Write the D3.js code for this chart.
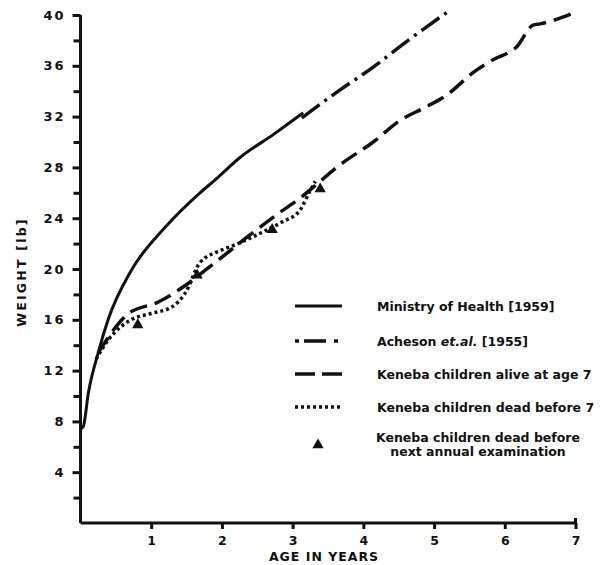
<!DOCTYPE html>
<html>
<head>
<meta charset="utf-8">
<script src="https://cdn.jsdelivr.net/npm/d3@7"></script>
<style>
  body { margin: 0; background: #fff; }
  svg text { font-family: "DejaVu Sans", sans-serif; font-weight: bold; fill: #111; }
</style>
</head>
<body>
<div id="chart"></div>
<script>
// Ministry of Health (1959)
const ministryAge = [0, 0.04, 0.11, 0.25, 0.39, 0.72, 1.2, 1.69, 1.9, 2.26, 2.73, 3.15];
const ministryWt  = [7.4, 7.6, 10.2, 13.4, 16.0, 19.9, 23.3, 26.0, 27.0, 28.8, 30.6, 32.3];

// Acheson et al. (1955)
const achesonAge = [3.13, 3.67, 4.14, 4.61, 5.23];
const achesonWt  = [31.9, 34.1, 35.9, 37.9, 40.4];

// Keneba children alive at age 7
const aliveAge = [0.25, 0.68, 1.1, 1.48, 1.81, 2.4, 2.78, 3.11, 3.43, 3.67, 4.14, 4.52, 4.9, 5.18, 5.56, 5.84, 6.17, 6.4, 6.5, 6.99];
const aliveWt  = [13.4, 16.5, 17.4, 18.7, 20.1, 22.7, 24.3, 25.6, 27.1, 28.2, 30.0, 31.7, 32.8, 33.7, 35.5, 36.5, 37.5, 39.2, 39.3, 40.2];

// Keneba children dead before 7
const deadAge = [0.22, 0.39, 0.58, 0.75, 1.0, 1.29, 1.48, 1.69, 2.0, 2.23, 2.5, 2.85, 3.1, 3.25, 3.32];
const deadWt  = [12.9, 14.4, 15.5, 16.1, 16.5, 17.0, 18.1, 20.5, 21.5, 22.0, 22.7, 23.7, 24.6, 26.2, 26.9];

// Keneba children dead before next annual examination
const exitAge = [0.81, 1.65, 2.71, 3.39];
const exitWt  = [15.6, 19.5, 23.1, 26.3];

const xTicks = [1, 2, 3, 4, 5, 6, 7];
const yTicksMajor = [4, 8, 12, 16, 20, 24, 28, 32, 36, 40];
const yTicksMinor = [2, 6, 10, 14, 18, 22, 26, 30, 34, 38];

const legendLabels = [
  'Ministry of Health [1959]',
  'Acheson et.al. [1955]',
  'Keneba children alive at age 7',
  'Keneba children dead before 7'
];

const width = 612, height = 565;
const svg = d3.select('#chart').append('svg')
  .attr('width', width)
  .attr('height', height);

const x = d3.scaleLinear().domain([0, 7]).range([80.5, 575.5]);
const y = d3.scaleLinear().domain([0, 40]).range([523, 15]);

// axes
const yAxis = svg.append('g')
  .attr('transform', `translate(${x(0)},0)`)
  .call(d3.axisLeft(y).tickValues(yTicksMajor).tickSize(8).tickSizeOuter(0).tickPadding(7));
svg.append('g')
  .attr('transform', `translate(${x(0)},0)`)
  .call(d3.axisLeft(y).tickValues(yTicksMinor).tickSize(7).tickFormat(''))
  .select('.domain').remove();
yAxis.select('.domain').attr('d', `M0,${y(40)}V${y(0)}`);
yAxis.selectAll('text').style('font-size', '13px').style('letter-spacing', '2px');

const xAxis = svg.append('g')
  .attr('transform', `translate(0,${y(0)})`)
  .call(d3.axisBottom(x).tickValues(xTicks).tickFormat(d3.format('d')).tickSize(6).tickSizeOuter(0).tickPadding(7));
xAxis.select('.domain').attr('d', `M${x(0)},0H${x(7)}V-5`);
xAxis.selectAll('text').style('font-size', '12.5px');

svg.selectAll('.domain, .tick line')
  .attr('stroke', '#111')
  .attr('stroke-width', 3);

svg.append('text')
  .attr('x', 324).attr('y', 561)
  .attr('text-anchor', 'middle')
  .style('font-size', '12.5px')
  .style('letter-spacing', '1px')
  .text('AGE IN YEARS');

svg.append('text')
  .attr('transform', 'translate(26,272) rotate(-90)')
  .attr('text-anchor', 'middle')
  .style('font-size', '12.5px')
  .style('letter-spacing', '2.2px')
  .text('WEIGHT  [lb]');

// curves
const line = d3.line()
  .x(d => x(d[0]))
  .y(d => y(d[1]))
  .curve(d3.curveMonotoneX);

const series = [
  { age: ministryAge, wt: ministryWt, dash: null, w: 3 },
  { age: achesonAge, wt: achesonWt, dash: '22 6 3 6', w: 3.5 },
  { age: aliveAge, wt: aliveWt, dash: '18 8', w: 3.5 },
  { age: deadAge, wt: deadWt, dash: '3 3', w: 3.5 }
];

svg.selectAll('.curve')
  .data(series)
  .enter()
  .append('path')
  .attr('class', 'curve')
  .attr('d', s => line(d3.zip(s.age, s.wt)))
  .attr('fill', 'none')
  .attr('stroke', '#111')
  .attr('stroke-width', s => s.w)
  .attr('stroke-dasharray', s => s.dash);

const tri = d3.symbol().type(d3.symbolTriangle).size(55);
svg.selectAll('.exit')
  .data(d3.zip(exitAge, exitWt))
  .enter()
  .append('path')
  .attr('class', 'exit')
  .attr('transform', d => `translate(${x(d[0])},${y(d[1])})`)
  .attr('d', tri)
  .attr('fill', '#111');

// legend
const legendY = [306, 341, 374, 407];
const leg = svg.append('g');
leg.selectAll('line')
  .data(series)
  .enter()
  .append('line')
  .attr('x1', 295).attr('x2', 342)
  .attr('y1', (s, i) => legendY[i]).attr('y2', (s, i) => legendY[i])
  .attr('stroke', '#111')
  .attr('stroke-width', s => s.w)
  .attr('stroke-dasharray', (s, i) => i === 1 ? '4 5 22 8 4' : (i === 2 ? '20 7' : s.dash));

const legText = leg.selectAll('text.lab')
  .data(legendLabels)
  .enter()
  .append('text')
  .attr('class', 'lab')
  .attr('x', 377)
  .attr('y', (d, i) => legendY[i] + 4.5)
  .style('font-size', '12.5px');
legText.each(function(d, i) {
  const t = d3.select(this);
  if (i === 1) {
    t.append('tspan').text('Acheson ');
    t.append('tspan').style('font-style', 'italic').text('et.al.');
    t.append('tspan').text(' [1955]');
  } else {
    t.text(d);
  }
});

leg.append('path')
  .attr('transform', 'translate(318,445)')
  .attr('d', tri)
  .attr('fill', '#111');
leg.append('text')
  .attr('x', 478).attr('y', 442)
  .attr('text-anchor', 'middle')
  .style('font-size', '12.5px')
  .text('Keneba children dead before');
leg.append('text')
  .attr('x', 478).attr('y', 456)
  .attr('text-anchor', 'middle')
  .style('font-size', '12.5px')
  .text('next annual examination');
</script>
</body>
</html>
